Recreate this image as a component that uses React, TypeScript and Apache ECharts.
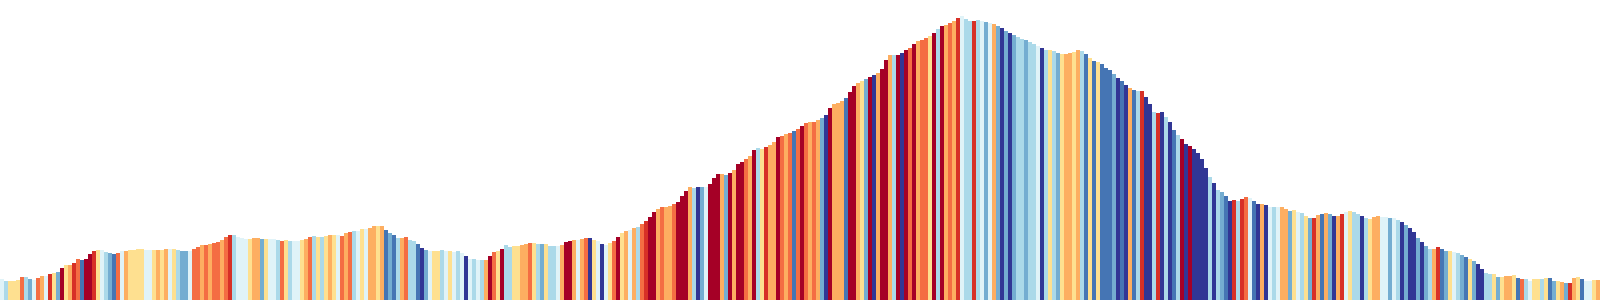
import React, { useEffect, useRef } from "react";
import * as echarts from "echarts";

// Elevation profile sampled every segment (arbitrary height units)
const elevation: number[] = [
  21, 19, 19, 19, 20, 23, 23, 21, 20, 22, 24, 24, 26, 27, 28, 32, 35, 35, 37, 41,
  40, 41, 46, 49, 50, 50, 48, 47, 46, 47, 49, 49, 50, 50, 51, 51, 50, 50, 50, 50,
  50, 51, 51, 51, 50, 49, 49, 49, 51, 53, 55, 55, 56, 57, 58, 60, 63, 65, 65, 63,
  62, 61, 61, 62, 62, 61, 61, 61, 61, 60, 59, 60, 59, 59, 59, 60, 61, 63, 64, 63,
  63, 64, 65, 65, 65, 64, 67, 68, 69, 69, 71, 71, 72, 74, 74, 74, 70, 67, 65, 62,
  62, 63, 60, 59, 56, 52, 50, 49, 49, 49, 50, 49, 49, 48, 49, 47, 44, 41, 41, 40,
  40, 40, 44, 48, 49, 51, 55, 53, 54, 54, 55, 56, 57, 57, 56, 56, 56, 54, 54, 54,
  55, 58, 59, 60, 60, 61, 62, 62, 60, 59, 56, 55, 57, 59, 63, 67, 69, 70, 72, 73,
  76, 79, 83, 88, 91, 93, 93, 94, 96, 98, 104, 109, 113, 112, 113, 113, 113, 116, 122, 126,
  126, 125, 127, 130, 136, 138, 141, 144, 150, 152, 151, 153, 155, 158, 163, 164, 166, 167, 169, 171,
  174, 177, 178, 178, 180, 182, 185, 192, 196, 197, 199, 202, 208, 214, 217, 219, 221, 223, 225, 227,
  231, 240, 245, 245, 245, 247, 250, 252, 256, 259, 260, 262, 264, 267, 271, 274, 275, 277, 279, 282,
  284, 281, 279, 279, 280, 279, 278, 277, 276, 274, 272, 269, 267, 265, 263, 261, 260, 258, 256, 254,
  252, 250, 250, 249, 247, 246, 246, 247, 248, 250, 249, 246, 242, 239, 238, 236, 232, 230, 226, 222,
  219, 215, 212, 210, 209, 209, 203, 196, 188, 187, 188, 183, 178, 170, 165, 161, 156, 154, 151, 147,
  141, 132, 123, 117, 110, 108, 104, 99, 100, 99, 101, 103, 102, 99, 96, 96, 95, 93, 93, 93,
  93, 91, 89, 90, 88, 87, 84, 82, 82, 85, 86, 87, 86, 84, 84, 86, 88, 89, 88, 86,
  84, 82, 81, 83, 84, 83, 83, 82, 82, 80, 78, 75, 72, 68, 62, 58, 54, 51, 51, 53,
  51, 49, 49, 48, 47, 45, 43, 41, 39, 36, 31, 27, 26, 26, 23, 23, 24, 24, 25, 22,
  21, 21, 19, 21, 21, 21, 22, 22, 19, 19, 18, 17, 17, 22, 23, 21, 19, 19, 20, 20,
];

// Gradient class of each segment: 0 = steepest descent ... 9 = steepest climb
const gradeClass: number[] = [
  4, 3, 5, 5, 5, 7, 3, 2, 4, 7, 6, 4, 8, 5, 2, 9, 5, 6, 8, 7,
  1, 9, 9, 8, 5, 4, 3, 2, 1, 7, 4, 6, 5, 5, 5, 5, 4, 4, 5, 6,
  5, 6, 4, 5, 3, 2, 2, 4, 7, 7, 6, 7, 6, 7, 7, 6, 7, 8, 3, 4,
  4, 4, 5, 6, 6, 2, 5, 4, 4, 3, 7, 5, 3, 4, 4, 5, 6, 7, 3, 5,
  3, 5, 6, 5, 4, 7, 6, 7, 3, 4, 5, 4, 6, 6, 5, 6, 1, 2, 1, 3,
  6, 7, 3, 3, 1, 0, 2, 4, 5, 5, 3, 4, 5, 4, 3, 4, 0, 4, 3, 4,
  3, 6, 9, 7, 5, 9, 3, 3, 5, 5, 6, 6, 7, 5, 3, 2, 5, 3, 3, 4,
  6, 9, 9, 6, 4, 6, 7, 0, 5, 4, 0, 4, 5, 7, 9, 5, 6, 4, 6, 3,
  7, 8, 9, 9, 6, 7, 6, 6, 7, 9, 9, 9, 6, 3, 0, 2, 4, 9, 9, 9,
  6, 2, 9, 6, 9, 9, 7, 6, 9, 3, 5, 8, 6, 6, 9, 7, 6, 7, 1, 7,
  9, 7, 6, 7, 6, 2, 0, 9, 6, 6, 6, 1, 9, 9, 6, 5, 2, 9, 0, 6,
  9, 9, 6, 3, 9, 0, 9, 7, 9, 6, 7, 7, 5, 9, 3, 9, 6, 7, 6, 8,
  4, 3, 3, 8, 3, 4, 2, 4, 6, 2, 0, 2, 0, 2, 3, 3, 2, 3, 3, 4,
  0, 3, 5, 3, 2, 5, 6, 6, 5, 6, 3, 1, 5, 1, 5, 1, 1, 1, 2, 0,
  1, 0, 6, 1, 3, 8, 0, 0, 3, 8, 0, 3, 0, 1, 3, 9, 0, 9, 0, 0,
  0, 0, 3, 0, 3, 2, 1, 0, 8, 3, 8, 7, 4, 1, 0, 6, 0, 4, 3, 4,
  6, 6, 2, 5, 4, 3, 5, 2, 8, 6, 1, 6, 2, 0, 6, 8, 4, 5, 3, 3,
  0, 3, 5, 6, 6, 4, 4, 2, 4, 3, 0, 2, 0, 0, 2, 0, 2, 3, 6, 8,
  1, 2, 5, 4, 3, 2, 1, 5, 2, 0, 0, 3, 3, 5, 2, 5, 6, 6, 5, 1,
  7, 3, 4, 5, 5, 3, 5, 1, 2, 5, 6, 2, 8, 6, 5, 1, 4, 4, 5, 6,
];

// RdYlBu diverging palette, index = gradient class
const palette: string[] = [
  "#313695", "#4575b4", "#74add1", "#abd9e9", "#e0f3f8",
  "#fee090", "#fdae61", "#f46d43", "#d73027", "#a50026",
];

const segments: string[] = elevation.map((_, i) => String(i));

export default function App() {
  const ref = useRef<HTMLDivElement>(null);

  useEffect(() => {
    if (!ref.current) return;
    const chart = echarts.init(ref.current, undefined, { renderer: "svg" });
    chart.setOption({
      animation: false,
      backgroundColor: "#ffffff",
      grid: { left: 0, right: 0, top: 0, bottom: 0 },
      xAxis: {
        type: "category",
        data: segments,
        show: false,
        boundaryGap: true,
      },
      yAxis: {
        type: "value",
        min: 0,
        max: 300,
        show: false,
      },
      series: [
        {
          type: "bar",
          barCategoryGap: "0%",
          barGap: "0%",
          data: elevation.map((v, i) => ({
            value: v,
            itemStyle: { color: palette[gradeClass[i]] },
          })),
          itemStyle: { borderWidth: 0 },
        },
      ],
    });
    return () => chart.dispose();
  }, []);

  return (
    <div
      ref={ref}
      style={{ position: "absolute", left: 0, top: 0, width: 1600, height: 300 }}
    />
  );
}
